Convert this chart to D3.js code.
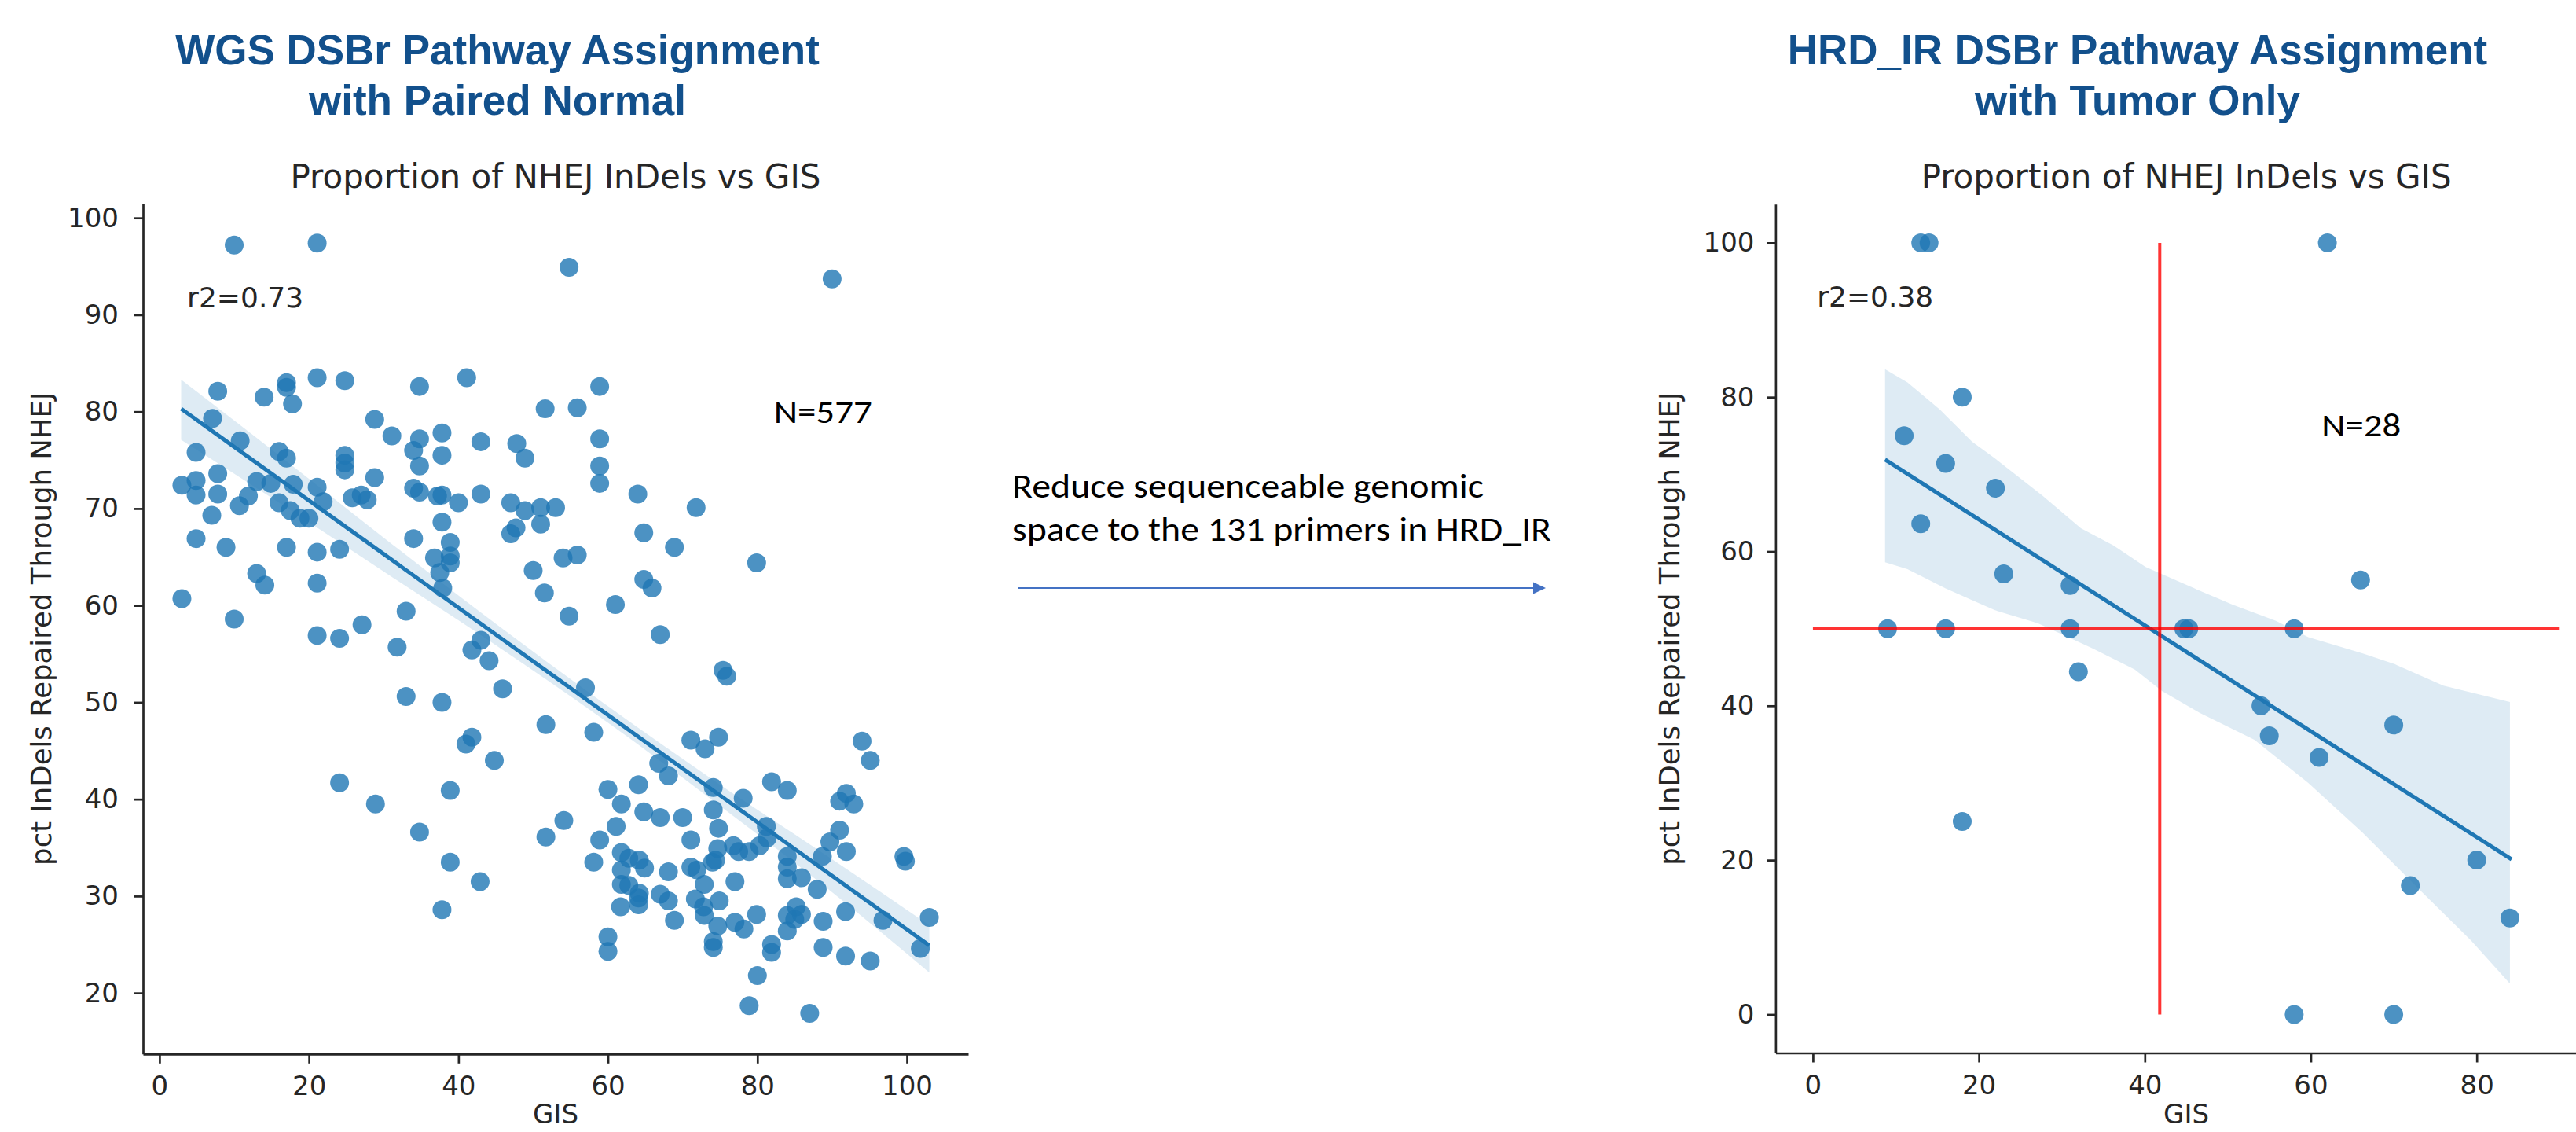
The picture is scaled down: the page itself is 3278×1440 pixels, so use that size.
<!DOCTYPE html>
<html>
<head>
<meta charset="utf-8">
<script src="https://cdn.jsdelivr.net/npm/d3@7"></script>
<style>
  html, body { margin: 0; padding: 0; background: #ffffff; }
  svg { display: block; }
</style>
</head>
<body>
<svg id="fig" width="3278" height="1440"></svg>
<script>
// ---------------- WGS panel (paired normal) ----------------
const wgsGIS = [
  10.0, 21.1, 7.8, 14.0, 17.0, 17.0, 17.8, 21.1, 24.8, 34.8, 41.1, 51.6, 7.1, 4.9, 10.8, 16.0,
  17.0, 24.8, 24.8, 24.8, 28.8, 31.1, 34.8, 34.0, 34.8, 37.8, 37.8, 43.0, 47.8, 48.9, 28.8, 3.0,
  4.9, 4.9, 7.8, 7.8, 10.7, 11.9, 13.0, 14.9, 16.0, 17.9, 17.5, 18.8, 20.0, 21.1, 21.9, 25.8,
  27.0, 27.8, 34.0, 34.8, 37.2, 37.8, 40.0, 43.0, 47.0, 48.9, 51.0, 47.0, 47.7, 51.0, 7.0, 4.9,
  8.9, 17.0, 21.1, 24.1, 34.0, 37.8, 38.9, 36.8, 38.9, 38.9, 37.5, 37.9, 13.0, 14.1, 21.1, 50.0,
  51.5, 3.0,
  10.0, 21.1, 24.1, 27.1, 33.0, 31.8, 43.0, 41.8, 44.1, 45.9, 33.0, 37.8, 51.7, 41.8, 41.0, 44.8,
  24.1, 28.9, 38.9, 34.8, 51.7, 38.9, 42.9, 37.8,
  54.8, 90.0, 58.9, 55.9, 58.9, 58.9, 58.9, 64.0, 71.8, 53.0, 64.8, 68.9, 54.0, 55.9, 64.8, 65.9,
  79.9, 61.0, 54.8, 67.0,
  57.0, 58.1, 75.4, 75.9, 71.1, 73.0, 74.8, 94.0, 95.1, 66.8, 68.1, 81.9, 84.0, 60.0, 64.1, 61.8,
  64.8, 67.0, 70.0, 74.1, 74.1, 78.1, 91.9, 91.0, 92.9, 54.1, 61.1, 58.9, 74.8, 81.2, 91.0, 71.1,
  89.7, 91.9, 58.1, 61.8, 62.8, 64.2, 64.9, 61.8, 68.1, 61.8, 62.8, 64.2, 61.7, 64.1, 64.1, 67.0,
  68.1, 68.9, 71.1, 71.9, 72.9, 74.0, 74.7, 74.4, 76.8, 77.5, 78.9, 80.3, 81.3, 77.0, 71.7, 72.8,
  74.9, 72.9, 74.7, 77.0, 78.2, 79.9, 74.1, 74.1, 60.0, 60.0, 81.9, 81.9, 80.0, 78.9, 87.0, 84.0,
  84.0, 85.2, 85.9, 85.0, 88.8, 91.8, 88.8, 91.8, 95.1, 96.8, 99.6, 99.8, 84.0, 84.0, 84.0, 85.9,
  88.0, 88.7, 103.0, 101.8
];
const wgsPct = [
  97.2, 97.4, 82.1, 81.5, 83.0, 82.5, 80.8, 83.5, 83.2, 82.6, 83.5, 80.3, 79.3, 75.8, 77.0, 75.9,
  75.2, 75.5, 74.7, 74.0, 79.2, 77.5, 77.2, 76.0, 74.4, 77.8, 75.5, 76.9, 76.7, 75.2, 73.2, 72.4,
  72.9, 71.4, 73.6, 71.5, 70.3, 71.3, 72.8, 72.6, 70.6, 72.5, 69.8, 69.0, 69.0, 72.2, 70.7, 71.1,
  71.4, 70.9, 72.1, 71.7, 71.3, 71.4, 70.6, 71.5, 70.6, 69.8, 70.1, 67.4, 68.0, 68.4, 69.3, 66.9,
  66.0, 66.0, 65.5, 65.8, 66.9, 68.6, 66.5, 64.9, 65.1, 64.4, 63.4, 61.8, 63.3, 62.1, 62.3, 63.6,
  61.3, 60.7,
  58.6, 56.9, 56.6, 58.0, 59.4, 55.7, 56.4, 55.4, 54.3, 51.4, 50.6, 50.0, 47.7, 46.4, 45.7, 44.0,
  41.7, 39.5, 40.9, 36.6, 36.1, 33.5, 31.5, 28.6,
  94.9, 93.7, 82.6, 80.4, 77.2, 74.4, 72.6, 71.5, 70.1, 70.1, 67.5, 66.0, 64.9, 65.2, 62.7, 61.8,
  64.4, 60.1, 58.9, 57.0,
  51.5, 46.9, 53.3, 52.7, 46.1, 45.2, 46.4, 46.0, 44.0, 43.7, 42.4, 41.8, 40.9, 41.0, 41.5, 39.5,
  38.7, 38.1, 38.1, 41.2, 38.9, 40.1, 40.6, 39.8, 39.5, 37.8, 37.2, 35.8, 37.0, 37.2, 36.8, 35.8,
  35.6, 34.6, 33.5, 34.5, 33.9, 33.7, 32.9, 32.7, 32.5, 31.2, 31.1, 30.3, 28.9, 29.1, 29.8, 30.2,
  29.5, 27.5, 33.0, 32.7, 31.2, 33.5, 34.9, 33.7, 35.2, 34.6, 34.6, 35.2, 36.0, 31.5, 29.7, 28.9,
  29.5, 28.0, 26.9, 27.3, 26.6, 28.1, 25.3, 24.7, 25.8, 24.3, 25.0, 24.2, 21.8, 18.7, 17.9, 26.4,
  28.0, 28.9, 28.1, 27.6, 27.4, 28.4, 24.7, 23.8, 23.3, 27.5, 34.1, 33.6, 34.1, 33.0, 31.8, 31.9,
  30.7, 34.1, 27.8, 24.6
];
// fitted regression line (end points) and its confidence band
const wgsFitGIS = [2.9, 103.0];
const wgsFitPct = [80.3, 24.9];
const wgsBandGIS  = [2.9, 15, 30, 45, 60, 75, 90, 103.0];
const wgsBandLow  = [77.1, 71.1, 63.5, 55.9, 47.9, 39.3, 30.4, 22.1];
const wgsBandHigh = [83.3, 76.1, 67.0, 58.1, 49.6, 41.5, 33.8, 27.0];
const wgsXTicks = [0, 20, 40, 60, 80, 100];
const wgsYTicks = [20, 30, 40, 50, 60, 70, 80, 90, 100];

// ---------------- HRD_IR panel (tumor only) ----------------
const hrdGIS = [13, 14, 62, 18, 11, 16, 22, 13, 23, 31, 66, 9, 16, 31, 44.7, 45.3, 58, 32, 54, 55,
                61, 70, 18, 72, 80, 84, 58, 70];
const hrdPct = [100, 100, 100, 80, 75, 71.4, 68.2, 63.6, 57.1, 55.6, 56.3, 50, 50, 50, 50, 50, 50,
                44.4, 40, 36.1, 33.3, 37.5, 25, 16.7, 20, 12.5, 0, 0];
const hrdFitGIS = [8.7, 84.2];
const hrdFitPct = [71.9, 20.1];
const hrdBandHighGIS = [8.7, 11.4, 15.3, 19.2, 21.9, 27.7, 32.3, 36.2, 40.1, 46.0, 50.6, 55.8, 59.7, 66.2, 70.1, 76.0, 84.0];
const hrdBandHigh    = [83.6, 81.9, 78.4, 74.2, 72.1, 67.2, 63.0, 60.8, 58.0, 55.2, 53.1, 51.0, 48.9, 46.8, 45.4, 42.6, 40.5];
const hrdBandLowGIS  = [8.7, 11.4, 16.0, 21.9, 27.1, 33.6, 38.8, 42.1, 46.6, 53.2, 59.7, 66.2, 72.7, 79.3, 84.0];
const hrdBandLow     = [58.6, 57.7, 55.2, 52.4, 50.7, 47.5, 44.7, 41.9, 39.1, 35.6, 30.0, 23.6, 16.6, 9.6, 4.0];
// red threshold cross: GIS cut-off and 50% NHEJ line
const hrdCutGIS = 41.8;
const hrdCutPct = 50;
const hrdXTicks = [0, 20, 40, 60, 80];
const hrdYTicks = [0, 20, 40, 60, 80, 100];

// ---------------- drawing ----------------
const svg = d3.select("#fig");
const BLUE = "#1f77b4";
const INK = "#262626";
const TITLE_BLUE = "#12508c";
const MPL_FONT = "'DejaVu Sans', sans-serif";
const OFFICE_FONT = "Calibri, Carlito, Lato, sans-serif";

function styleAxis(g) {
  g.select(".domain").attr("stroke", INK).attr("stroke-width", 2.7);
  g.selectAll(".tick line").attr("stroke", INK).attr("stroke-width", 2.7);
  g.selectAll(".tick text").attr("fill", INK).attr("font-size", 34).attr("font-family", MPL_FONT);
}

function drawPanel(p) {
  const g = svg.append("g");
  const x = d3.scaleLinear().domain(p.xDomain).range(p.xRange);
  const y = d3.scaleLinear().domain(p.yDomain).range(p.yRange);

  // confidence band
  g.append("path")
    .attr("d", p.band(x, y))
    .attr("fill", BLUE).attr("fill-opacity", 0.15).attr("stroke", "none");

  // scatter
  g.append("g").selectAll("circle")
    .data(d3.range(p.gis.length))
    .join("circle")
      .attr("cx", i => x(p.gis[i]))
      .attr("cy", i => y(p.pct[i]))
      .attr("r", 12)
      .attr("fill", BLUE).attr("fill-opacity", 0.8);

  // regression line
  g.append("line")
    .attr("x1", x(p.fitGIS[0])).attr("y1", y(p.fitPct[0]))
    .attr("x2", x(p.fitGIS[1])).attr("y2", y(p.fitPct[1]))
    .attr("stroke", BLUE).attr("stroke-width", 5);

  if (p.extra) p.extra(g, x, y);

  // axes (left and bottom spines only)
  const xa = g.append("g").attr("transform", `translate(0,${p.yRange[0]})`)
    .call(d3.axisBottom(x).tickValues(p.xTicks).tickSize(12).tickPadding(16).tickSizeOuter(0));
  styleAxis(xa);
  const ya = g.append("g").attr("transform", `translate(${p.xRange[0]},0)`)
    .call(d3.axisLeft(y).tickValues(p.yTicks).tickSize(11).tickPadding(p.yPad).tickSizeOuter(0));
  styleAxis(ya);

  // axis labels
  g.append("text")
    .attr("transform", `translate(${p.yLabelX},${(p.yRange[0] + p.yRange[1]) / 2}) rotate(-90)`)
    .attr("text-anchor", "middle").attr("font-family", MPL_FONT).attr("font-size", 35.5).attr("fill", INK)
    .text("pct InDels Repaired Through NHEJ");
  g.append("text")
    .attr("x", (p.xRange[0] + p.xRange[1]) / 2).attr("y", 1429)
    .attr("text-anchor", "middle").attr("font-family", MPL_FONT).attr("font-size", 34).attr("fill", INK)
    .text("GIS");

  // axes title
  g.append("text")
    .attr("x", (p.xRange[0] + p.xRange[1]) / 2).attr("y", 239)
    .attr("text-anchor", "middle").attr("font-family", MPL_FONT).attr("font-size", 42).attr("fill", INK)
    .text("Proportion of NHEJ InDels vs GIS");

  // r2 annotation
  g.append("text")
    .attr("x", x(p.r2At[0])).attr("y", y(p.r2At[1]))
    .attr("font-family", MPL_FONT).attr("font-size", 36).attr("fill", INK)
    .text(p.r2Text);

  // sample size note
  g.append("text")
    .attr("x", x(p.nAt[0])).attr("y", y(p.nAt[1]))
    .attr("font-family", OFFICE_FONT).attr("font-size", 42).attr("fill", "#000")
    .attr("textLength", p.nWidth).attr("lengthAdjust", "spacingAndGlyphs")
    .text(p.nText);

  // panel heading
  const h = g.append("text").attr("text-anchor", "middle")
    .attr("font-family", "'Liberation Sans', Arial, sans-serif").attr("font-weight", "bold")
    .attr("font-size", 53).attr("fill", TITLE_BLUE);
  h.append("tspan").attr("x", p.headX).attr("y", 82).text(p.head[0]);
  h.append("tspan").attr("x", p.headX).attr("y", 146).text(p.head[1]);
}

drawPanel({
  gis: wgsGIS, pct: wgsPct,
  xDomain: [-2.2, 108.2], xRange: [182, 1232],
  yDomain: [13.7, 101.5], yRange: [1340.8, 258.7],
  xTicks: wgsXTicks, yTicks: wgsYTicks, yPad: 20, yLabelX: 65,
  fitGIS: wgsFitGIS, fitPct: wgsFitPct,
  band: (x, y) => d3.area()
      .x(i => x(wgsBandGIS[i])).y0(i => y(wgsBandLow[i])).y1(i => y(wgsBandHigh[i]))
      .curve(d3.curveMonotoneX)(d3.range(wgsBandGIS.length)),
  r2Text: "r2=0.73", r2At: [3.7, 90.75],
  nText: "N=577", nAt: [82.2, 78.8], nWidth: 125,
  head: ["WGS DSBr Pathway Assignment", "with Paired Normal"], headX: 633
});

drawPanel({
  gis: hrdGIS, pct: hrdPct,
  xDomain: [-4.5, 94.5], xRange: [2259.4, 3304.8],
  yDomain: [-5, 105], yRange: [1339.5, 259.8],
  xTicks: hrdXTicks, yTicks: hrdYTicks, yPad: 16, yLabelX: 2137,
  fitGIS: hrdFitGIS, fitPct: hrdFitPct,
  band: (x, y) => {
    const upper = hrdBandHighGIS.map((v, i) => [x(v), y(hrdBandHigh[i])]);
    const lower = hrdBandLowGIS.map((v, i) => [x(v), y(hrdBandLow[i])]).reverse();
    return d3.line()(upper.concat(lower)) + "Z";
  },
  extra: (g, x, y) => {
    g.append("line")
      .attr("x1", x(hrdCutGIS)).attr("x2", x(hrdCutGIS))
      .attr("y1", y(0)).attr("y2", y(100))
      .attr("stroke", "#ff0000").attr("stroke-opacity", 0.8).attr("stroke-width", 4);
    g.append("line")
      .attr("x1", x(0)).attr("x2", x(90))
      .attr("y1", y(hrdCutPct)).attr("y2", y(hrdCutPct))
      .attr("stroke", "#ff0000").attr("stroke-opacity", 0.8).attr("stroke-width", 4);
  },
  r2Text: "r2=0.38", r2At: [0.5, 91.7],
  nText: "N=28", nAt: [61.3, 74.9], nWidth: 101,
  head: ["HRD_IR DSBr Pathway Assignment", "with Tumor Only"], headX: 2720
});

// transition note and arrow between the two panels
const note = svg.append("text").attr("font-family", OFFICE_FONT).attr("font-size", 44).attr("fill", "#000");
note.append("tspan").attr("x", 1288).attr("y", 633)
  .attr("textLength", 600).attr("lengthAdjust", "spacingAndGlyphs")
  .text("Reduce sequenceable genomic");
note.append("tspan").attr("x", 1288).attr("y", 688)
  .attr("textLength", 686).attr("lengthAdjust", "spacingAndGlyphs")
  .text("space to the 131 primers in HRD_IR");

const arrowY = 748;
svg.append("line")
  .attr("x1", 1296).attr("x2", 1953).attr("y1", arrowY).attr("y2", arrowY)
  .attr("stroke", "#4472c4").attr("stroke-width", 2);
svg.append("path")
  .attr("d", d3.line()([[1951, arrowY - 7.5], [1967, arrowY], [1951, arrowY + 7.5]]) + "Z")
  .attr("fill", "#4472c4");
</script>
</body>
</html>
